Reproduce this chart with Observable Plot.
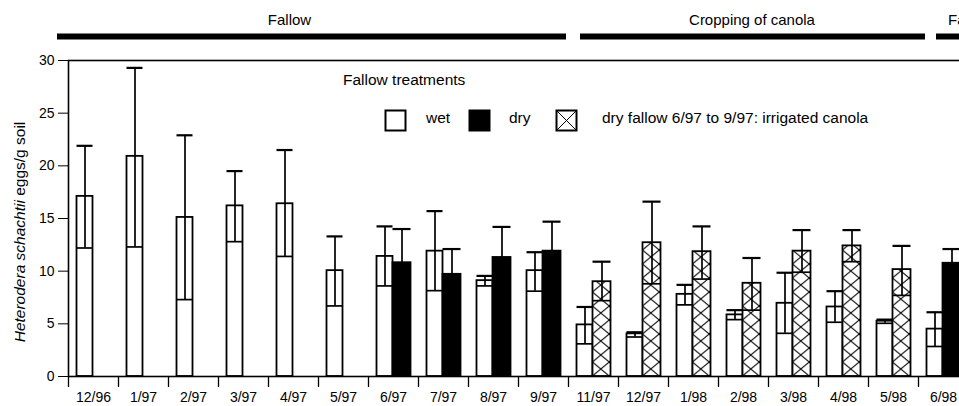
<!DOCTYPE html>
<html>
<head>
<meta charset="utf-8">
<script src="https://cdn.jsdelivr.net/npm/d3@7"></script>
<script src="https://cdn.jsdelivr.net/npm/@observablehq/plot@0.6"></script>
<style>
  html, body { margin: 0; padding: 0; overflow: hidden; background: #fff; }
  #chart svg { max-width: none !important; display: block; }
</style>
</head>
<body>
<div id="chart"></div>
<script>
// ---------- data ----------
const categories = ["12/96","1/97","2/97","3/97","4/97","5/97","6/97","7/97","8/97","9/97",
                    "11/97","12/97","1/98","2/98","3/98","4/98","5/98","6/98"];
const wetMean = [17.1, 20.9, 15.1, 16.2, 16.4, 10.05, 11.4, 11.9, 9.1, 10.05, 4.9, 4.05, 7.8, 5.85, 6.95, 6.6, 5.25, 4.5];
const wetLow  = [12.2, 12.3, 7.3, 12.8, 11.4, 6.7, 8.6, 8.15, 8.6, 8.1, 3.1, 3.75, 6.8, 5.4, 4.1, 5.15, 5.05, 2.85];
const wetHigh = [21.9, 29.3, 22.9, 19.5, 21.5, 13.3, 14.25, 15.7, 9.55, 11.8, 6.6, 4.2, 8.7, 6.3, 9.85, 8.1, 5.4, 6.1];

const dryCategories = ["6/97","7/97","8/97","9/97","6/98"];
const dryMean = [10.8, 9.7, 11.3, 11.9, 10.75];
const dryLow  = [7.6, 7.3, 8.4, 9.1, 9.4];
const dryHigh = [14.0, 12.1, 14.2, 14.7, 12.1];

const canolaCategories = ["11/97","12/97","1/98","2/98","3/98","4/98","5/98"];
const canolaMean = [9.0, 12.7, 11.85, 8.85, 11.9, 12.4, 10.15];
const canolaLow  = [7.2, 8.8, 9.25, 6.3, 9.9, 10.9, 7.7];
const canolaHigh = [10.9, 16.6, 14.25, 11.25, 13.9, 13.9, 12.4];

const yTicks = [0, 5, 10, 15, 20, 25, 30];

const phaseLabels  = ["Fallow", "Cropping of canola", "Fallow"];
const phaseStart   = ["12/96", "11/97", "6/98"];
const phaseEnd     = ["9/97", "5/98", "6/98"];
const phaseLabelAt = ["4/97", "2/98", "6/98"];

const legendTitle = "Fallow treatments";
const legendLabels = ["wet", "dry", "dry fallow 6/97 to 9/97: irrigated canola"];
const yLabelItalic = "Heterodera schachtii";
const yLabelRest = " eggs/g soil";

// ---------- tables ----------
const wet = categories.map((c, i) => ({cat: c, mean: wetMean[i], lo: wetLow[i], hi: wetHigh[i]}));
const dry = dryCategories.map((c, i) => ({cat: c, mean: dryMean[i], lo: dryLow[i], hi: dryHigh[i]}));
const canola = canolaCategories.map((c, i) => ({cat: c, mean: canolaMean[i], lo: canolaLow[i], hi: canolaHigh[i]}));
const second = [...dry, ...canola];
const phases = phaseLabels.map((l, i) => ({label: l, start: phaseStart[i], end: phaseEnd[i], at: phaseLabelAt[i]}));
const yMax = yTicks[yTicks.length - 1];

// ---------- styles ----------
const FONT = "'Liberation Sans', Arial, Helvetica, sans-serif";
const wetInset = {insetLeft: 8.5, insetRight: 25.5};
const secInset = {insetLeft: 24.5, insetRight: 7.5};
const phaseStyle = [
  {insetLeft: -11, insetRight: 2, dx: -4, textAnchor: "middle"},
  {insetLeft: 12, insetRight: -7, dx: 8.5, textAnchor: "middle"},
  {insetLeft: 18, insetRight: -60, dx: 4.5, textAnchor: "start"}
];

function errorMarks(data, inset, dx) {
  return [
    Plot.ruleX(data, {x: "cat", y1: "lo", y2: "hi", dx, stroke: "black", strokeWidth: 1.7}),
    Plot.tickY(data, {x: "cat", y: "hi", ...inset, stroke: "black", strokeWidth: 2.2}),
    Plot.tickY(data, {x: "cat", y: "lo", ...inset, stroke: "black", strokeWidth: 1.7})
  ];
}

const chart = Plot.plot({
  width: 968,
  height: 406,
  marginLeft: 68,
  marginRight: 0,
  marginTop: 60,
  marginBottom: 30,
  style: {fontFamily: FONT, fontSize: "14px", color: "black", background: "white", overflow: "visible"},
  x: {domain: categories, padding: 0, tickSize: 0, tickPadding: 16, label: null},
  y: {domain: [0, yMax], ticks: yTicks, tickSize: 10, tickPadding: 4, label: null},
  marks: [
    // bars
    Plot.barY(wet, {x: "cat", y: "mean", fill: "white", stroke: "black", strokeWidth: 1.8, ...wetInset}),
    Plot.barY(dry, {x: "cat", y: "mean", fill: "black", stroke: "black", strokeWidth: 1.8, ...secInset}),
    Plot.barY(canola, {x: "cat", y: "mean", fill: "url(#xhatch)", stroke: "black", strokeWidth: 1.8, ...secInset}),
    // error bars
    ...errorMarks(wet, wetInset, -8.5),
    ...errorMarks(second, secInset, 8.5),
    // frame and category boundary ticks
    Plot.frame({stroke: "black", strokeWidth: 1.6}),
    Plot.ruleX(categories, {x: d => d, y1: () => 0, y2: () => 0, dx: -25, insetTop: 0, insetBottom: -11, stroke: "black", strokeWidth: 1.3}),
    // phase annotations
    ...phases.flatMap((p, i) => [
      Plot.ruleY([p], {x1: "start", x2: "end", y: () => yMax, dy: -24, stroke: "black", strokeWidth: 6,
        insetLeft: phaseStyle[i].insetLeft, insetRight: phaseStyle[i].insetRight}),
      Plot.text([p], {x: "at", y: () => yMax, dy: -40, dx: phaseStyle[i].dx, text: "label",
        textAnchor: phaseStyle[i].textAnchor, fontSize: 15, fill: "black"})
    ])
  ]
});

const svg = d3.select(chart.tagName.toLowerCase() === "svg" ? chart : chart.querySelector("svg"));

// hatch pattern
const defs = svg.insert("defs", ":first-child");
const pat = defs.append("pattern")
  .attr("id", "xhatch")
  .attr("patternUnits", "userSpaceOnUse")
  .attr("x", 92.5).attr("y", 376)
  .attr("width", 50 / 3).attr("height", 14);
pat.append("rect").attr("width", 50 / 3).attr("height", 14).attr("fill", "white");
pat.append("path").attr("d", `M0,0L${50/3},14M${50/3},0L0,14`).attr("stroke", "black").attr("stroke-width", 1).attr("fill", "none");

// y axis label (mixed italic)
const ylab = svg.append("text")
  .attr("transform", "translate(21,232) rotate(-90)")
  .attr("text-anchor", "middle")
  .attr("dominant-baseline", "middle")
  .attr("font-family", FONT)
  .attr("font-size", 15.5)
  .attr("fill", "black");
ylab.append("tspan").attr("font-style", "italic").text(yLabelItalic);
ylab.append("tspan").text(yLabelRest);

// legend
const lg = svg.append("g").attr("font-family", FONT).attr("font-size", 15.5).attr("fill", "black").attr("text-anchor", "start");
lg.append("text").attr("x", 343).attr("y", 81).attr("text-anchor", "start").attr("dominant-baseline", "middle").text(legendTitle);
const boxX = [385.5, 469.5, 556.5];
const textX = [426, 509, 602];
const boxFill = ["white", "black", "white"];
legendLabels.forEach((lab, i) => {
  lg.append("rect").attr("x", boxX[i]).attr("y", 110.5).attr("width", 20).attr("height", 20)
    .attr("fill", boxFill[i]).attr("stroke", "black").attr("stroke-width", 2);
  if (i === 2) {
    lg.append("path").attr("d", `M${boxX[i]},110.5L${boxX[i]+20},130.5M${boxX[i]+20},110.5L${boxX[i]},130.5`)
      .attr("stroke", "black").attr("stroke-width", 1);
  }
  lg.append("text").attr("x", textX[i]).attr("y", 119).attr("text-anchor", "start").attr("dominant-baseline", "middle").text(lab);
});

document.getElementById("chart").appendChild(chart);
</script>
</body>
</html>
